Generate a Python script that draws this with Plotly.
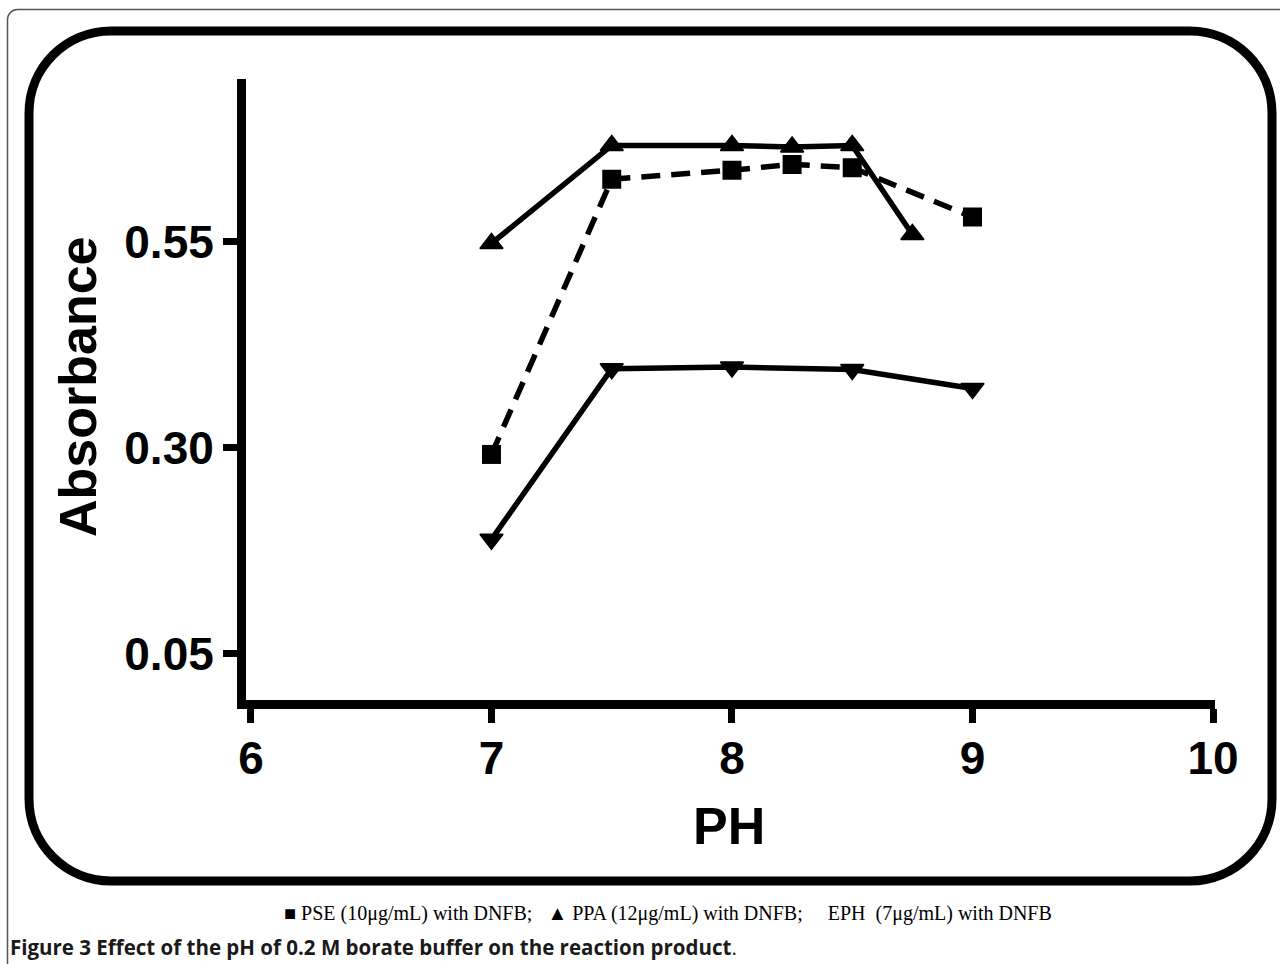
import plotly.graph_objects as go

# ---- data ----
ph_pse = [7, 7.5, 8, 8.25, 8.5, 9]
abs_pse = [0.292, 0.626, 0.637, 0.644, 0.640, 0.580]

ph_ppa = [7, 7.5, 8, 8.25, 8.5, 8.75]
abs_ppa = [0.548, 0.667, 0.667, 0.665, 0.667, 0.559]

ph_eph = [7, 7.5, 8, 8.5, 9]
abs_eph = [0.189, 0.396, 0.398, 0.395, 0.372]

x_ticks = [6, 7, 8, 9, 10]
y_ticks = [0.05, 0.30, 0.55]
y_ticktext = ["0.05", "0.30", "0.55"]

W, H = 1280, 964


def px(x):
    return x / W


def py(y):
    return 1 - y / H


AX_FONT = "Liberation Sans, Arial, Helvetica, sans-serif"

fig = go.Figure()

fig.add_trace(go.Scatter(
    x=ph_pse, y=abs_pse, mode="lines+markers", name="PSE",
    line=dict(color="black", width=5.5, dash="19px,11px"),
    marker=dict(symbol="square", size=19, color="black"),
))
fig.add_trace(go.Scatter(
    x=ph_ppa, y=abs_ppa, mode="lines+markers", name="PPA",
    line=dict(color="black", width=5.5),
    marker=dict(symbol="triangle-up", size=20, color="black",
                line=dict(color="black", width=1.5)),
))
fig.add_trace(go.Scatter(
    x=ph_eph, y=abs_eph, mode="lines+markers", name="EPH",
    line=dict(color="black", width=5.5),
    marker=dict(symbol="triangle-down", size=20, color="black",
                line=dict(color="black", width=1.5)),
))

LW = 9
x_left_px, x_right_px = 246, 1215
y_top_px, y_bot_px = 79, 699.5
xunit = 243.0
yunit = 836.0

fig.update_xaxes(
    domain=[px(x_left_px), px(x_right_px)],
    range=[6 - (x_left_px - 241) / xunit, 6 + (x_right_px - 241) / xunit],
    tickvals=x_ticks, ticktext=[str(t) for t in x_ticks],
    showline=True, linewidth=LW, linecolor="black",
    ticks="outside", ticklen=14, tickwidth=7, tickcolor="black",
    showgrid=False, zeroline=False, automargin=False,
    tickfont=dict(family=AX_FONT, size=46, color="black", weight="bold"),
    ticklabelstandoff=-4,
)
fig.update_yaxes(
    domain=[py(y_bot_px), py(y_top_px)],
    range=[-(704 - y_bot_px) / yunit, (704 - y_top_px) / yunit],
    tickvals=y_ticks, ticktext=y_ticktext,
    showline=True, linewidth=LW, linecolor="black",
    ticks="outside", ticklen=14, tickwidth=7, tickcolor="black",
    showgrid=False, zeroline=False, automargin=False,
    tickfont=dict(family=AX_FONT, size=46, color="black", weight="bold"),
    ticklabelstandoff=0,
)


def rounded_rect(l, t, r, b, rad):
    k = 0.5523 * rad
    pts = []
    pts.append(f"M {px(l + rad)},{py(t)}")
    pts.append(f"L {px(r - rad)},{py(t)}")
    pts.append(f"C {px(r - rad + k)},{py(t)} {px(r)},{py(t + rad - k)} {px(r)},{py(t + rad)}")
    pts.append(f"L {px(r)},{py(b - rad)}")
    pts.append(f"C {px(r)},{py(b - rad + k)} {px(r - rad + k)},{py(b)} {px(r - rad)},{py(b)}")
    pts.append(f"L {px(l + rad)},{py(b)}")
    pts.append(f"C {px(l + rad - k)},{py(b)} {px(l)},{py(b - rad + k)} {px(l)},{py(b - rad)}")
    pts.append(f"L {px(l)},{py(t + rad)}")
    pts.append(f"C {px(l)},{py(t + rad - k)} {px(l + rad - k)},{py(t)} {px(l + rad)},{py(t)}")
    pts.append("Z")
    return " ".join(pts)


shapes = [
    dict(type="path", xref="paper", yref="paper",
         path=rounded_rect(29, 31, 1272, 881, 82),
         line=dict(color="black", width=9), fillcolor="rgba(0,0,0,0)", layer="below"),
]
r0 = 10
k0 = 0.5523 * r0
fx, fy = 7.5, 9.5
outer = (f"M {px(fx)},{py(H)} L {px(fx)},{py(fy + r0)} "
         f"C {px(fx)},{py(fy + r0 - k0)} {px(fx + r0 - k0)},{py(fy)} {px(fx + r0)},{py(fy)} "
         f"L {px(W)},{py(fy)}")
shapes.append(dict(type="path", xref="paper", yref="paper", path=outer,
                   line=dict(color="#555555", width=1.5)))

annotations = [
    dict(text="<b>Absorbance</b>", x=px(78), y=py(387), xref="paper", yref="paper",
         textangle=-90, showarrow=False, xanchor="center", yanchor="middle",
         font=dict(family=AX_FONT, size=52, color="black")),
    dict(text="<b>PH</b>", x=px(729), y=py(826), xref="paper", yref="paper",
         showarrow=False, xanchor="center", yanchor="middle",
         font=dict(family=AX_FONT, size=52, color="black")),
    dict(text="\u25A0 PSE (10\u03bcg/mL) with DNFB;&nbsp;&nbsp;&nbsp;\u25B2 PPA (12\u03bcg/mL) with DNFB;&nbsp;&nbsp;&nbsp;&nbsp;&nbsp;EPH&nbsp;&nbsp;(7\u03bcg/mL) with DNFB",
         x=px(668), y=py(913), xref="paper", yref="paper",
         showarrow=False, xanchor="center", yanchor="middle",
         font=dict(family="Liberation Serif, Times New Roman, serif", size=20, color="black")),
    dict(text="<b>Figure 3 Effect of the pH of 0.2 M borate buffer on the reaction product</b>.",
         x=px(8), y=py(947), xref="paper", yref="paper",
         showarrow=False, xanchor="left", yanchor="middle",
         font=dict(family="Open Sans, Noto Sans, sans-serif", size=20.5, color="#1a1a1a")),
]

fig.update_layout(
    width=W, height=H, autosize=False,
    margin=dict(l=0, r=0, t=0, b=0, pad=0, autoexpand=False),
    paper_bgcolor="white", plot_bgcolor="white",
    showlegend=False,
    shapes=shapes, annotations=annotations,
)

fig.write_html(
    "out.html",
    config={"displayModeBar": False},
    post_script="document.body.style.margin='0';document.body.style.overflow='hidden';"
                "document.documentElement.style.overflow='hidden';",
)
